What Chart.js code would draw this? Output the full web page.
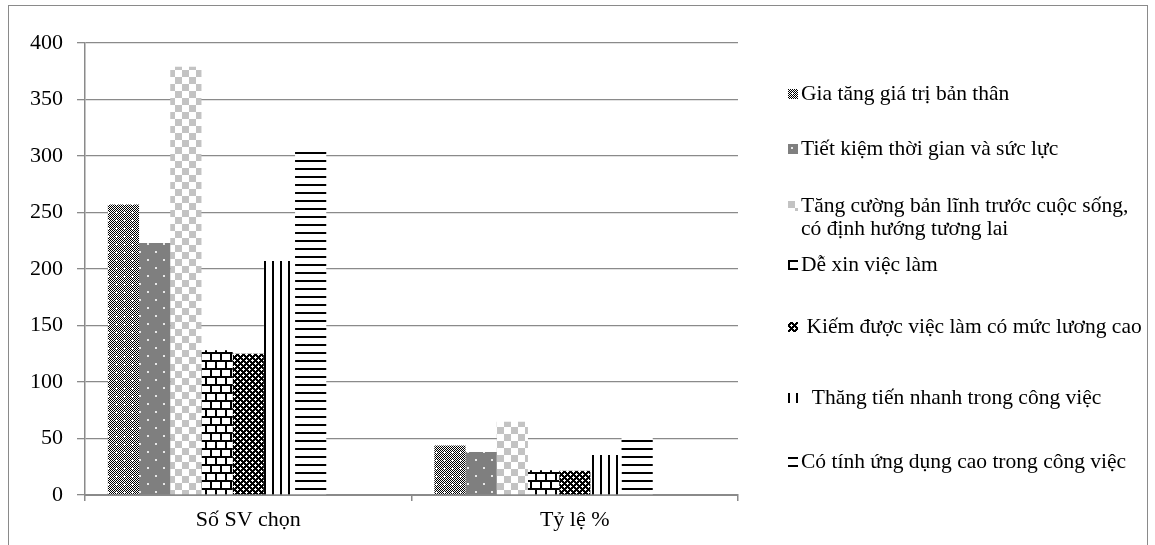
<!DOCTYPE html>
<html><head><meta charset="utf-8">
<script src="https://cdn.jsdelivr.net/npm/chart.js@4.4.0/dist/chart.umd.min.js"></script>
<style>html,body{margin:0;padding:0;background:#fff;}canvas{display:block;}</style>
</head><body>
<canvas id="c" width="1155" height="545"></canvas>
<script>
// ---- data ----
const categories = ['Số SV chọn', 'Tỷ lệ %'];
const seriesLabels = [
  'Gia tăng giá trị bản thân',
  'Tiết kiệm thời gian và sức lực',
  ['Tăng cường bản lĩnh trước cuộc sống,', 'có định hướng tương lai'],
  'Dễ xin việc làm',
  ' Kiếm được việc làm có mức lương cao',
  '  Thăng tiến nhanh trong công việc',
  'Có tính ứng dụng cao trong công việc'
];
const giaTang   = [257, 43.9];
const tietKiem  = [223, 38.1];
const tangCuong = [379, 64.8];
const deXin     = [128, 21.9];
const kiemDuoc  = [125, 21.4];
const thangTien = [207, 35.4];
const coTinh    = [304, 52.0];
const emptySeries = [null, null];
const yMin = 0, yMax = 400, yStep = 50;

// ---- patterns ----
const canvas = document.getElementById('c');
const mainCtx = canvas.getContext('2d');
function makePattern(w, h, draw) {
  const c = document.createElement('canvas');
  c.width = w; c.height = h;
  const g = c.getContext('2d');
  draw(g);
  return mainCtx.createPattern(c, 'repeat');
}
function px(g, list, color) { g.fillStyle = color; list.forEach(p => g.fillRect(p[0], p[1], 1, 1)); }

const patterns = [
  makePattern(8, 8, g => {
    g.fillStyle = '#fff'; g.fillRect(0, 0, 8, 8);
    g.fillStyle = '#000';
    for (let y = 0; y < 8; y++) for (let x = 0; x < 8; x++) if ((x + y) % 2 === 0) g.fillRect(x, y, 1, 1);
    px(g, [[4,3],[3,4],[4,4],[5,4],[4,5]], '#fff');
  }),
  makePattern(16, 16, g => {
    g.fillStyle = '#7f7f7f'; g.fillRect(0, 0, 16, 16);
    g.fillStyle = '#e8e8e8'; g.fillRect(3, 3, 2, 2); g.fillRect(11, 11, 2, 2);
  }),
  makePattern(14, 14, g => {
    g.fillStyle = '#fff'; g.fillRect(0, 0, 14, 14);
    g.fillStyle = '#c3c3c3'; g.fillRect(0, 0, 7, 7); g.fillRect(7, 7, 7, 7);
  }),
  makePattern(10, 16, g => {
    g.fillStyle = '#fff'; g.fillRect(0, 0, 10, 16);
    g.fillStyle = '#000';
    g.fillRect(0, 0, 10, 2); g.fillRect(0, 8, 10, 2);
    g.fillRect(0, 0, 2, 8); g.fillRect(5, 8, 2, 8);
  }),
  makePattern(6, 6, g => {
    g.fillStyle = '#000'; g.fillRect(0, 0, 6, 6);
    px(g, [[3,2],[2,3],[3,3],[4,3],[3,4],[0,0],[1,0],[5,0],[0,1],[0,5]], '#fff');
  }),
  makePattern(8, 4, g => {
    g.fillStyle = '#fff'; g.fillRect(0, 0, 8, 4);
    g.fillStyle = '#000'; g.fillRect(0, 0, 2, 4);
  }),
  makePattern(4, 8, g => {
    g.fillStyle = '#fff'; g.fillRect(0, 0, 4, 8);
    g.fillStyle = '#000'; g.fillRect(0, 0, 4, 2);
  })
];

const seriesData = [giaTang, tietKiem, tangCuong, deXin, kiemDuoc, thangTien, coTinh];
const datasets = seriesData.map((d, i) => ({
  label: Array.isArray(seriesLabels[i]) ? seriesLabels[i].join(' ') : seriesLabels[i],
  data: d,
  backgroundColor: patterns[i],
  borderWidth: 0
}));
// two empty slots (as in the original chart) keep each group shifted left
datasets.push({ label: '', data: emptySeries, backgroundColor: 'rgba(0,0,0,0)' });
datasets.push({ label: '', data: emptySeries, backgroundColor: 'rgba(0,0,0,0)' });

const FONT = "'Liberation Serif', 'Times New Roman', serif";
const legendY = [94, 149, 206, 265, 327, 398, 462];

const decorPlugin = {
  id: 'decor',
  beforeDraw(chart) {
    const ctx = chart.ctx;
    ctx.save();
    ctx.fillStyle = '#fff';
    ctx.fillRect(0, 0, chart.width, chart.height);
    ctx.strokeStyle = '#8a8a8a';
    ctx.lineWidth = 1;
    ctx.strokeRect(8.5, 5.5, 1139, 560);
    ctx.restore();
  },
  afterDraw(chart) {
    const ctx = chart.ctx;
    ctx.save();
    ctx.font = '21.5px ' + FONT;
    ctx.fillStyle = '#000';
    ctx.textBaseline = 'middle';
    seriesLabels.forEach((lab, i) => {
      const y = legendY[i];
      ctx.save();
      ctx.translate(788, y - 5);
      ctx.fillStyle = patterns[i];
      ctx.fillRect(0, 0, 10, 10);
      ctx.restore();
      const lines = Array.isArray(lab) ? lab : [lab];
      lines.forEach((t, j) => {
        ctx.fillText(t, 801, y + j * 23);
      });
    });
    ctx.restore();
  }
};

new Chart(canvas, {
  type: 'bar',
  data: { labels: categories, datasets },
  options: {
    responsive: false,
    animation: false,
    events: [],
    layout: { padding: { top: 43, right: 417, left: 0, bottom: 0 } },
    datasets: { bar: { categoryPercentage: 0.86, barPercentage: 1.0 } },
    plugins: { legend: { display: false }, tooltip: { enabled: false } },
    scales: {
      x: {
        afterFit: s => { s.height = 50; },
        grid: { display: true, drawOnChartArea: false, tickLength: 6, color: '#8a8a8a', lineWidth: 1.5, offset: true },
        border: { display: true, color: '#8a8a8a', width: 2 },
        ticks: { color: '#000', font: { family: FONT, size: 22 }, padding: 6 }
      },
      y: {
        min: yMin, max: yMax,
        afterFit: s => { s.width = 85; },
        grid: { color: '#8a8a8a', lineWidth: 1.3, tickLength: 8 },
        border: { display: true, color: '#8a8a8a', width: 1.5 },
        ticks: { stepSize: yStep, color: '#000', font: { family: FONT, size: 22 }, padding: 14 }
      }
    }
  },
  plugins: [decorPlugin]
});
</script>
</body></html>
